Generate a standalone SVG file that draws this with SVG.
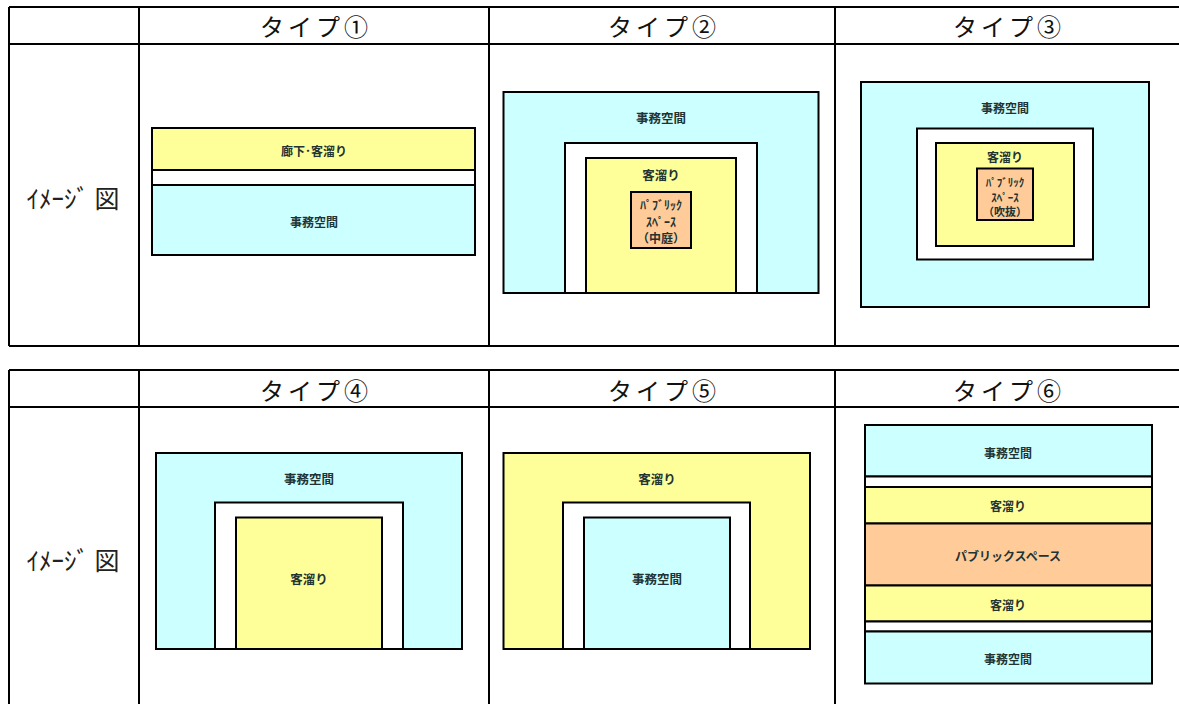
<svg xmlns="http://www.w3.org/2000/svg" width="1179" height="704" viewBox="0 0 1179 704">
<style>
.grid{stroke:#000;stroke-width:2;fill:none}
.b{fill:#CCFFFF;stroke:#000;stroke-width:2}
.y{fill:#FFFF99;stroke:#000;stroke-width:2}
.o{fill:#FFCC99;stroke:#000;stroke-width:2}
.w{fill:#FFFFFF;stroke:#000;stroke-width:2}
.thin{stroke:#000;stroke-width:1}
text{font-family:"Noto Sans CJK JP","Noto Sans CJK SC",sans-serif;text-anchor:middle;dominant-baseline:central}
.h{font-size:24px;letter-spacing:4px;fill:#111}
.l{font-size:25px;fill:#222}
.t{font-size:12.5px;font-weight:bold;fill:#223333}
.s{font-size:12px;font-weight:bold;fill:#223333}
.xs{font-size:11px;font-weight:bold;fill:#223333}
</style>
<rect width="1179" height="704" fill="#fff"/>
<g id="table-top">
<path class="grid" d="M9 7H1179M9 44H1179M9 346H1179M9 7V346M139 7V346M489 7V346M835 7V346"/>
<text class="h" x="316" y="25">タイプ①</text>
<text class="h" x="664" y="25">タイプ②</text>
<text class="h" x="1009" y="25">タイプ③</text>
<text class="l" x="73" y="197">ｲﾒｰｼﾞ 図</text>
</g>
<g id="table-bottom">
<path class="grid" d="M9 370H1179M9 407H1179M9 370V704M139 370V704M489 370V704M835 370V704"/>
<text class="h" x="316" y="389">タイプ④</text>
<text class="h" x="664" y="389">タイプ⑤</text>
<text class="h" x="1009" y="389">タイプ⑥</text>
<text class="l" x="73" y="559">ｲﾒｰｼﾞ 図</text>
</g>
<g id="type1">
<rect class="y" x="152" y="128" width="323" height="42"/>
<rect class="w" x="152" y="170" width="323" height="15"/>
<rect class="b" x="152" y="185" width="323" height="70"/>
<text class="s" x="314" y="150">廊下･客溜り</text>
<text class="s" x="314" y="221">事務空間</text>
</g>
<g id="type2">
<rect class="b" x="503.5" y="92" width="315" height="201"/>
<rect class="w" x="565" y="143" width="192" height="150"/>
<rect class="y" x="586" y="158" width="150" height="135"/>
<rect class="o" x="631" y="192" width="60" height="56"/>
<text class="t" x="661" y="117">事務空間</text>
<text class="t" x="661" y="174">客溜り</text>
<text class="s" x="661" y="204">ﾊﾟﾌﾞﾘｯｸ</text>
<text class="s" x="661" y="221">ｽﾍﾟｰｽ</text>
<text class="s" x="661" y="237">（中庭）</text>
</g>
<g id="type3">
<rect class="b" x="861" y="82" width="288" height="225"/>
<rect class="w" x="917" y="128.5" width="176" height="131"/>
<rect class="y" x="936" y="143" width="138" height="103"/>
<rect class="o" x="977" y="168.5" width="56" height="51.5"/>
<text class="s" x="1005" y="107">事務空間</text>
<text class="s" x="1005" y="156">客溜り</text>
<text class="xs" x="1005" y="181.5">ﾊﾟﾌﾞﾘｯｸ</text>
<text class="xs" x="1005" y="196.5">ｽﾍﾟｰｽ</text>
<text class="xs" x="1005" y="211">（吹抜）</text>
</g>
<g id="type4">
<rect class="b" x="156" y="453" width="306" height="196"/>
<rect class="w" x="215" y="502.5" width="188" height="146.5"/>
<rect class="y" x="236" y="517.5" width="146" height="131.5"/>
<text class="t" x="309" y="478">事務空間</text>
<text class="t" x="309" y="578">客溜り</text>
</g>
<g id="type5">
<rect class="y" x="503.5" y="453" width="306.5" height="196"/>
<rect class="w" x="563" y="502.5" width="187" height="146.5"/>
<rect class="b" x="584" y="517.5" width="146" height="131.5"/>
<text class="t" x="657" y="478">客溜り</text>
<text class="t" x="657" y="578">事務空間</text>
</g>
<g id="type6">
<rect class="b" x="865" y="425" width="287" height="51.5"/>
<rect class="w" x="865" y="476.5" width="287" height="10.5"/>
<rect class="y" x="865" y="487" width="287" height="36.5"/>
<rect class="o" x="865" y="523.5" width="287" height="62" stroke-width="1"/>
<rect class="y" x="865" y="585.5" width="287" height="36"/>
<rect class="w" x="865" y="621.5" width="287" height="10"/>
<rect class="b" x="865" y="631.5" width="287" height="52"/>
<path class="thin" d="M865 523.5H1152M865 585.5H1152"/>
<text class="s" x="1008" y="452">事務空間</text>
<text class="s" x="1008" y="505">客溜り</text>
<text class="s" x="1008" y="555">パブリックスペース</text>
<text class="s" x="1008" y="604">客溜り</text>
<text class="s" x="1008" y="658">事務空間</text>
</g>
<g id="connectors"/>
</svg>
